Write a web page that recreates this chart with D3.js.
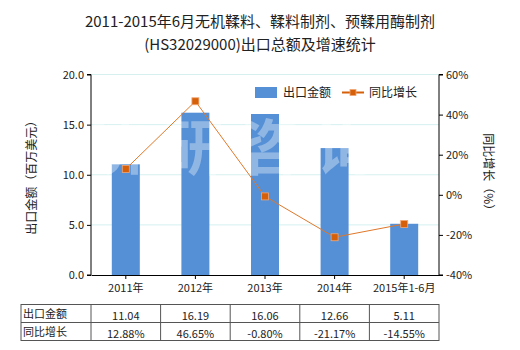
<!DOCTYPE html>
<html>
<head>
<meta charset="utf-8">
<script src="https://cdn.jsdelivr.net/npm/d3@7/dist/d3.min.js"></script>
<style>
  body { margin: 0; background: #fff; }
  svg { display: block; font-family: "Microsoft YaHei", "Noto Sans CJK SC", sans-serif; }
</style>
</head>
<body>
<svg id="chart" width="520" height="350"></svg>
<script>
// Export value (million USD) and year-on-year growth (%)
const categories = ["2011年", "2012年", "2013年", "2014年", "2015年1-6月"];
const exportValues = [11.04, 16.19, 16.06, 12.66, 5.11];
const growthRates = [12.88, 46.65, -0.80, -21.17, -14.55];
const leftTicks = [0, 5, 10, 15, 20];
const rightTicks = [-40, -20, 0, 20, 40, 60];
const rowLabels = ["出口金额", "同比增长"];

const svg = d3.select("#chart");
const pLeft = 91, pRight = 439, pTop = 74.5, pBottom = 275;

const x = d3.scaleBand().domain(categories).range([pLeft, pRight]);
const yL = d3.scaleLinear().domain([0, 20]).range([pBottom, pTop]);
const yR = d3.scaleLinear().domain([-40, 60]).range([pBottom, pTop]);

// Title
svg.append("text").attr("x", 260).attr("y", 27).attr("text-anchor", "middle")
  .attr("font-size", 15).attr("fill", "#222")
  .text("2011-2015年6月无机鞣料、鞣料制剂、预鞣用酶制剂");
svg.append("text").attr("x", 260).attr("y", 50).attr("text-anchor", "middle")
  .attr("font-size", 15).attr("fill", "#222")
  .text("(HS32029000)出口总额及增速统计");

// Gridlines
svg.append("g").selectAll("line").data(leftTicks.slice(1)).join("line")
  .attr("x1", pLeft).attr("x2", pRight)
  .attr("y1", d => yL(d)).attr("y2", d => yL(d))
  .attr("stroke", "#d6f0f0").attr("stroke-width", 1);

// Bars
const barW = 28;
svg.append("g").selectAll("rect").data(categories).join("rect")
  .attr("x", d => x(d) + x.bandwidth() / 2 - barW / 2)
  .attr("width", barW)
  .attr("y", (d, i) => yL(exportValues[i]))
  .attr("height", (d, i) => pBottom - yL(exportValues[i]))
  .attr("fill", "#5590d6");

// Watermark
svg.append("g").attr("fill", "#fff").attr("fill-opacity", 0.35)
  .attr("font-size", 60).attr("font-weight", "bold")
  .selectAll("text").data(["济", "研", "咨", "询"]).join("text")
  .attr("x", (d, i) => 118 + i * 76).attr("y", 170).attr("text-anchor", "middle")
  .text(d => d);

// Axes
const axisL = svg.append("g").attr("transform", `translate(${pLeft},0)`)
  .call(d3.axisLeft(yL).tickValues(leftTicks).tickFormat(d3.format(".1f")).tickSize(4));
const axisR = svg.append("g").attr("transform", `translate(${pRight},0)`)
  .call(d3.axisRight(yR).tickValues(rightTicks).tickFormat(d => d + "%").tickSize(4));
const axisB = svg.append("g").attr("transform", `translate(0,${pBottom})`)
  .call(d3.axisBottom(x).tickSize(4).tickSizeOuter(0));
[axisL, axisR, axisB].forEach(g => {
  g.selectAll("path, line").attr("stroke", "#000");
  g.selectAll("text").attr("font-size", 11).attr("fill", "#222")
    .attr("font-family", "\"Microsoft YaHei\", \"Noto Sans CJK SC\", sans-serif");
});
axisL.select(".domain").attr("d", `M-4,${pTop}H0V${pBottom}H-4`);
axisR.select(".domain").attr("d", `M4,${pTop}H0V${pBottom}H4`);
axisB.selectAll("text").attr("dy", "0.9em");

// Axis titles
svg.append("text").attr("transform", `translate(36,${(pTop + pBottom) / 2}) rotate(-90)`)
  .attr("text-anchor", "middle").attr("font-size", 12).attr("fill", "#222")
  .text("出口金额（百万美元）");
svg.append("text").attr("transform", `translate(484,${(pTop + pBottom) / 2}) rotate(90)`)
  .attr("text-anchor", "middle").attr("font-size", 12).attr("fill", "#222")
  .text("同比增长（%）");

// Growth line
const cx = d => x(d) + x.bandwidth() / 2;
const line = d3.line().x((d, i) => cx(categories[i])).y(d => yR(d));
svg.append("path").datum(growthRates).attr("d", line)
  .attr("fill", "none").attr("stroke", "#e0782a").attr("stroke-width", 1);
svg.append("g").selectAll("rect").data(growthRates).join("rect")
  .attr("x", (d, i) => cx(categories[i]) - 3.5).attr("y", d => yR(d) - 3.5)
  .attr("width", 7).attr("height", 7)
  .attr("fill", "#d65f0a").attr("stroke", "#f2a774").attr("stroke-width", 0.8);

// Legend
const lg = svg.append("g").attr("font-size", 12).attr("fill", "#222");
lg.append("rect").attr("x", 255).attr("y", 87).attr("width", 22).attr("height", 11).attr("fill", "#5590d6");
lg.append("text").attr("x", 283).attr("y", 97).text("出口金额");
lg.append("line").attr("x1", 342).attr("x2", 364).attr("y1", 92.5).attr("y2", 92.5)
  .attr("stroke", "#d65f0a").attr("stroke-width", 2);
lg.append("rect").attr("x", 350).attr("y", 89.5).attr("width", 6).attr("height", 6)
  .attr("fill", "#d65f0a").attr("stroke", "#f2a774").attr("stroke-width", 0.8);
lg.append("text").attr("x", 369).attr("y", 97).text("同比增长");

// Data table
const tTop = 304.5, rowH = 18, tLeft = 21, firstCol = 91;
const colEdges = [tLeft, firstCol].concat(categories.map((c, i) => x(c) + x.bandwidth()));
const rows = [exportValues.map(d => d.toFixed(2)), growthRates.map(d => d.toFixed(2) + "%")];
const tg = svg.append("g");
tg.append("rect").attr("x", tLeft).attr("y", tTop)
  .attr("width", colEdges[colEdges.length - 1] - tLeft).attr("height", rowH * 2)
  .attr("fill", "none").attr("stroke", "#555").attr("stroke-width", 1);
tg.append("line").attr("x1", tLeft).attr("x2", colEdges[colEdges.length - 1])
  .attr("y1", tTop + rowH).attr("y2", tTop + rowH).attr("stroke", "#555");
tg.selectAll("line.col").data(colEdges.slice(1, -1)).join("line").attr("class", "col")
  .attr("x1", d => d).attr("x2", d => d).attr("y1", tTop).attr("y2", tTop + rowH * 2)
  .attr("stroke", "#555");
rowLabels.forEach((lab, r) => {
  tg.append("text").attr("x", tLeft + 2).attr("y", tTop + rowH * r + 13)
    .attr("font-size", 11).attr("fill", "#222").text(lab);
  tg.selectAll(null).data(rows[r]).join("text")
    .attr("x", (d, i) => cx(categories[i])).attr("y", tTop + rowH * r + 15)
    .attr("text-anchor", "middle").attr("font-size", 11).attr("fill", "#222")
    .text(d => d);
});
</script>
</body>
</html>
